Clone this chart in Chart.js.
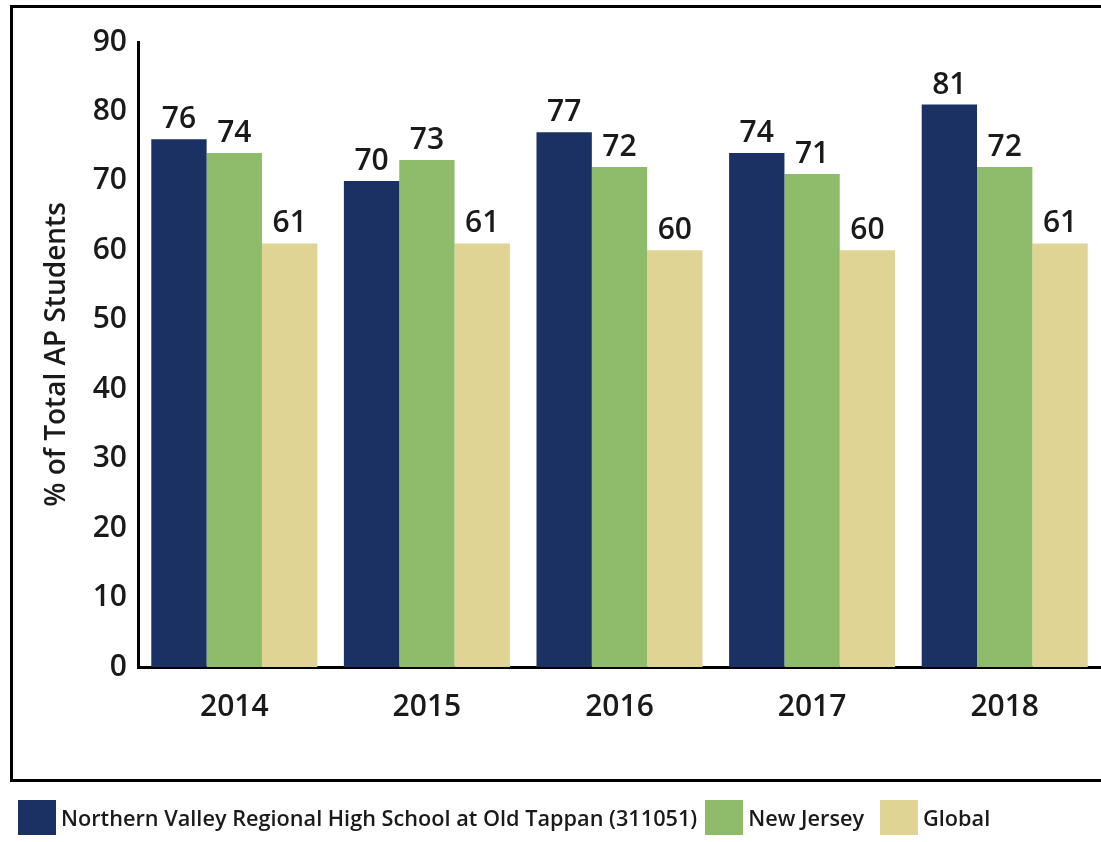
<!DOCTYPE html>
<html>
<head>
<meta charset="utf-8">
<script src="https://cdn.jsdelivr.net/npm/chart.js@4"></script>
<style>
    html, body { margin: 0; padding: 0; background: #fff; overflow: hidden; }
    #wrap { position: absolute; left: 0; top: 0; width: 1101px; height: 842px; }
    #legend {
        position: absolute; left: 18px; top: 800px;
        display: flex; align-items: center;
        font-family: 'Open Sans', sans-serif; font-weight: 600; font-size: 21.7px; color: #1a1a1a;
    }
    .leg-item { display: flex; align-items: center; margin-right: 8px; }
    .leg-item:nth-child(2) { margin-right: 16px; }
    .leg-box { width: 38px; height: 35px; margin-right: 5px; }
</style>
</head>
<body>
<div id="wrap"><canvas id="apChart" width="1101" height="842"></canvas></div>
<div id="legend"></div>
<script>
const years = ['2014', '2015', '2016', '2017', '2018'];
const seriesNames = ['Northern Valley Regional High School at Old Tappan (311051)', 'New Jersey', 'Global'];
const schoolValues = [76, 70, 77, 74, 81];
const njValues = [74, 73, 72, 71, 72];
const globalValues = [61, 61, 60, 60, 61];
const colors = ['#1b3163', '#8fbc6a', '#dfd494'];

const ctx = document.getElementById('apChart').getContext('2d');

// outer frame around the plot (right edge runs off the page)
const framePlugin = {
    id: 'frame',
    beforeDraw(chart) {
        const c = chart.ctx;
        c.save();
        c.strokeStyle = '#000';
        c.lineWidth = 3;
        c.strokeRect(11.5, 6.5, 1200, 774);
        c.restore();
    }
};

// value labels above each bar
const valueLabels = {
    id: 'valueLabels',
    afterDatasetsDraw(chart) {
        const c = chart.ctx;
        c.save();
        c.font = '600 30px "Open Sans"';
        c.fillStyle = '#1a1a1a';
        c.textAlign = 'center';
        c.textBaseline = 'alphabetic';
        chart.data.datasets.forEach((ds, i) => {
            chart.getDatasetMeta(i).data.forEach((bar, j) => {
                c.fillText(ds.data[j], bar.x, bar.y - 11);
            });
        });
        c.restore();
    }
};

new Chart(ctx, {
    type: 'bar',
    data: {
        labels: years,
        datasets: [
            { label: seriesNames[0], data: schoolValues, backgroundColor: colors[0] },
            { label: seriesNames[1], data: njValues, backgroundColor: colors[1] },
            { label: seriesNames[2], data: globalValues, backgroundColor: colors[2] }
        ]
    },
    options: {
        responsive: false,
        animation: false,
        layout: { padding: { top: 42, bottom: 115, left: 0, right: 0 } },
        datasets: { bar: { categoryPercentage: 0.862, barPercentage: 1.0, borderWidth: 0 } },
        plugins: { legend: { display: false }, tooltip: { enabled: false } },
        scales: {
            x: {
                grid: { display: false },
                border: { display: true, color: '#000', width: 3 },
                ticks: { color: '#1a1a1a', font: { family: 'Open Sans', size: 30, weight: '600' }, padding: 14 },
                afterFit(scale) { scale.height = 60; }
            },
            y: {
                min: 0, max: 90,
                grid: { display: false },
                border: { display: true, color: '#000', width: 3 },
                ticks: { stepSize: 10, color: '#1a1a1a', font: { family: 'Open Sans', size: 30, weight: '600' }, padding: 3 },
                title: {
                    display: true, text: '% of Total AP Students', color: '#1a1a1a',
                    font: { family: 'Open Sans', size: 28, weight: '600' }, padding: { top: 40, bottom: 0 }
                },
                afterFit(scale) { scale.width = 138; }
            }
        }
    },
    plugins: [framePlugin, valueLabels]
});

const legend = document.getElementById('legend');
seriesNames.forEach((name, i) => {
    const item = document.createElement('div');
    item.className = 'leg-item';
    item.innerHTML = `<span class="leg-box" style="background:${colors[i]}"></span><span>${name}</span>`;
    legend.appendChild(item);
});
</script>
</body>
</html>
